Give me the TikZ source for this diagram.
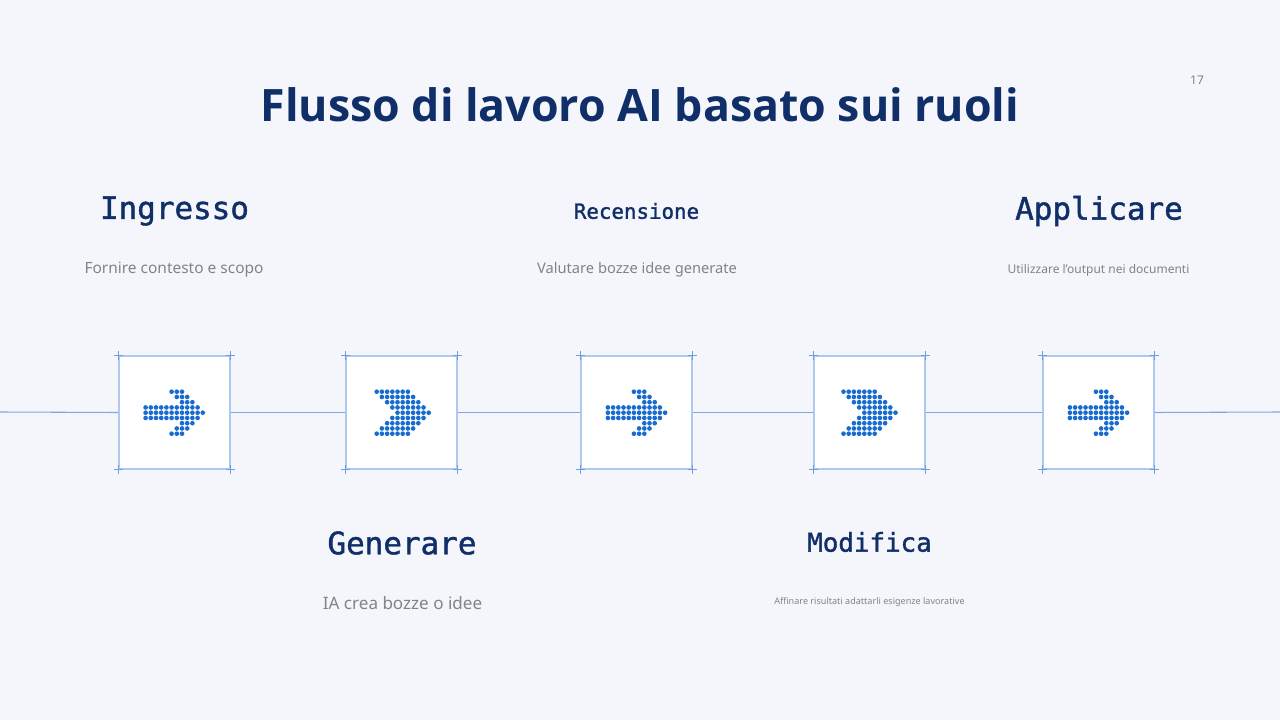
\documentclass[tikz,border=0pt]{standalone}
\usepackage{fontspec}
\setmainfont{Noto Sans}
\setmonofont{DejaVu Sans Mono}
\newfontfamily\titlefont{Open Sans}
\newfontfamily\headfont{DejaVu Sans Mono}[FakeBold=1.4]
\definecolor{bg}{RGB}{244,246,251}
\definecolor{navy}{RGB}{16,46,104}
\definecolor{graytxt}{RGB}{128,131,140}
\definecolor{boxline}{RGB}{175,202,240}
\definecolor{axis}{RGB}{125,168,228}
\definecolor{crossc}{RGB}{110,158,225}
\definecolor{dotc}{RGB}{24,108,208}
\newcommand{\dotarrow}[2]{%
  \foreach \r/\a/\b in {0/5/7,1/6/8,2/7/9,3/0/10,4/0/11,5/0/10,6/7/9,7/6/8,8/5/7}{%
    \foreach \c in {\a,...,\b}{%
      \fill[dotc] ({#1+(\c-5.5)*5.2},{#2+(\r-4)*5.25}) circle[radius=1.75pt];}}}
\newcommand{\dotchevron}[2]{%
  \foreach \r in {0,...,8}{%
    \pgfmathtruncatemacro\o{4-abs(\r-4)}%
    \foreach \c in {0,...,6}{%
      \fill[dotc] ({#1+(\o+\c-5)*5.2},{#2+(\r-4)*5.25}) circle[radius=1.75pt];}}}
\newcommand{\corners}[1]{%
  \foreach \k in {north west,north east,south west,south east}{%
    \draw[crossc,line width=0.75pt] ([xshift=-3.2pt]#1.\k) -- ([xshift=3.2pt]#1.\k);
    \draw[crossc,line width=0.75pt] ([yshift=-3.2pt]#1.\k) -- ([yshift=3.2pt]#1.\k);}}
\begin{document}
\begin{tikzpicture}[x=0.75pt,y=-0.75pt,
  stepbox/.style={draw=boxline,fill=white,line width=0.8pt,minimum width=83.25pt,minimum height=84.75pt,inner sep=0pt},
  head/.style={text=navy},
  desc/.style={text=graytxt},
  axisline/.style={draw=axis,line width=0.8pt}]
\fill[bg] (0,0) rectangle (1280,720);
\useasboundingbox (0,0) rectangle (1280,720);
\node[text=navy,font=\titlefont\fontsize{33.5}{40}\selectfont\bfseries] (title) at (640,105) {Flusso di lavoro AI basato sui ruoli};
\node[desc,font=\fontsize{9}{11}\selectfont] (pnum) at (1197,80) {17};
\coordinate (left) at (0,412);
\coordinate (right) at (1280,412);
\node[stepbox] (b1) at (174.5,412.5) {};
\node[stepbox] (b2) at (401.5,412.5) {};
\node[stepbox] (b3) at (636.5,412.5) {};
\node[stepbox] (b4) at (869.5,412.5) {};
\node[stepbox] (b5) at (1098.5,412.5) {};
\draw[axisline] (left) -- (b1.west);
\draw[axisline] (b1.east) -- (b2.west);
\draw[axisline] (b2.east) -- (b3.west);
\draw[axisline] (b3.east) -- (b4.west);
\draw[axisline] (b4.east) -- (b5.west);
\draw[axisline] (b5.east) -- (right);
\corners{b1}\corners{b2}\corners{b3}\corners{b4}\corners{b5}
\dotarrow{174.2}{412.7}
\dotchevron{402.7}{412.7}
\dotarrow{636.5}{412.7}
\dotchevron{869.5}{412.7}
\dotarrow{1098.5}{412.7}
\node[head,font=\headfont\fontsize{23.2}{28}\selectfont] (h1) at (174.5,211) {Ingresso};
\node[desc,font=\fontsize{11.6}{14}\selectfont] (d1) at (174,270) {Fornire contesto e scopo};
\node[head,font=\headfont\fontsize{15.6}{19}\selectfont] (h3) at (636.5,211) {Recensione};
\node[desc,font=\fontsize{11}{13}\selectfont] (d3) at (637,270) {Valutare bozze idee generate};
\node[head,font=\headfont\fontsize{23.2}{28}\selectfont] (h5) at (1099,211) {Applicare};
\node[desc,font=\fontsize{9}{11}\selectfont] (d5) at (1098.5,270) {Utilizzare l'output nei documenti};
\node[head,font=\headfont\fontsize{23.2}{28}\selectfont] (h2) at (402,543) {Generare};
\node[desc,font=\fontsize{12.8}{15}\selectfont] (d2) at (402.5,603) {IA crea bozze o idee};
\node[head,font=\headfont\fontsize{19.4}{24}\selectfont] (h4) at (869.5,542) {Modifica};
\node[desc,font=\fontsize{6.8}{8}\selectfont] (d4) at (869.5,602) {Affinare risultati adattarli esigenze lavorative};
\end{tikzpicture}
\end{document}
